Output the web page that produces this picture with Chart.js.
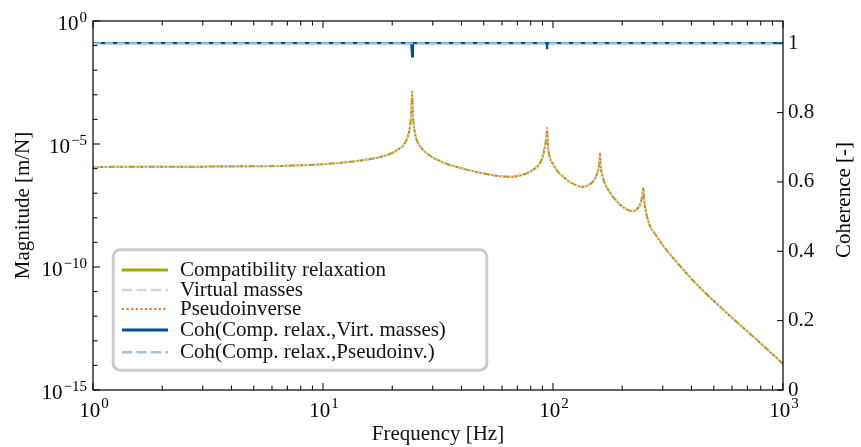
<!DOCTYPE html>
<html><head><meta charset="utf-8">
<script src="https://cdn.jsdelivr.net/npm/chart.js@4"></script>
<style>html,body{margin:0;padding:0;background:#fff}#wrap{width:861px;height:447px}</style>
</head><body><div id="wrap"><canvas id="c" width="861" height="447"></canvas></div>
<script>
// ---- data ----
const frequency = [1, 2, 3, 5, 7, 10, 14, 17.7, 20.9, 23.1, 23.9, 24.2, 24.4, 24.6, 25.1, 25.5, 27.3, 32.3, 42.2, 50, 58.8, 66, 71.9, 82.1, 89.3, 92.3, 93.6, 94.2, 94.8, 95.4, 100.3, 114.7, 125, 133.4, 142, 149.7, 157.4, 159.3, 160, 160.8, 162.8, 177, 195, 209, 223, 232, 239, 244.5, 247, 249, 251, 264, 273, 302, 357, 421, 589, 821, 1000];
const compatRelaxation = [1.17e-6, 1.19e-6, 1.20e-6, 1.24e-6, 1.32e-6, 1.51e-6, 2.04e-6, 2.95e-6, 5.5e-6, 1.51e-5, 5.25e-5, 2.0e-4, 1.35e-3, 1.58e-4, 2.82e-5, 1.51e-5, 5.62e-6, 2.0e-6, 9.1e-7, 6.3e-7, 4.9e-7, 4.7e-7, 5.25e-7, 9.1e-7, 2.34e-6, 8.1e-6, 2.0e-5, 4.47e-5, 1.26e-5, 5.9e-6, 1.45e-6, 3.55e-7, 2.19e-7, 1.82e-7, 2.09e-7, 3.09e-7, 9.1e-7, 2.0e-6, 4.37e-6, 1.58e-6, 6.76e-7, 1.05e-7, 3.55e-8, 2.19e-8, 1.86e-8, 2.24e-8, 3.47e-8, 7.9e-8, 1.66e-7, 6.3e-8, 2.95e-8, 4.57e-9, 2.82e-9, 7.1e-10, 1.10e-10, 2.0e-11, 1.02e-12, 6.3e-14, 1.15e-14];
const virtualMasses = [1.17e-6, 1.19e-6, 1.20e-6, 1.24e-6, 1.32e-6, 1.51e-6, 2.04e-6, 2.95e-6, 5.5e-6, 1.51e-5, 5.25e-5, 2.0e-4, 1.35e-3, 1.58e-4, 2.82e-5, 1.51e-5, 5.62e-6, 2.0e-6, 9.1e-7, 6.3e-7, 4.9e-7, 4.7e-7, 5.25e-7, 9.1e-7, 2.34e-6, 8.1e-6, 2.0e-5, 4.47e-5, 1.26e-5, 5.9e-6, 1.45e-6, 3.55e-7, 2.19e-7, 1.82e-7, 2.09e-7, 3.09e-7, 9.1e-7, 2.0e-6, 4.37e-6, 1.58e-6, 6.76e-7, 1.05e-7, 3.55e-8, 2.19e-8, 1.86e-8, 2.24e-8, 3.47e-8, 7.9e-8, 1.66e-7, 6.3e-8, 2.95e-8, 4.57e-9, 2.82e-9, 7.1e-10, 1.10e-10, 2.0e-11, 1.02e-12, 6.3e-14, 1.15e-14];
const pseudoinverse = [1.17e-6, 1.19e-6, 1.20e-6, 1.24e-6, 1.32e-6, 1.51e-6, 2.04e-6, 2.95e-6, 5.5e-6, 1.51e-5, 5.25e-5, 2.0e-4, 1.35e-3, 1.58e-4, 2.82e-5, 1.51e-5, 5.62e-6, 2.0e-6, 9.1e-7, 6.3e-7, 4.9e-7, 4.7e-7, 5.25e-7, 9.1e-7, 2.34e-6, 8.1e-6, 2.0e-5, 4.47e-5, 1.26e-5, 5.9e-6, 1.45e-6, 3.55e-7, 2.19e-7, 1.82e-7, 2.09e-7, 3.09e-7, 9.1e-7, 2.0e-6, 4.37e-6, 1.58e-6, 6.76e-7, 1.05e-7, 3.55e-8, 2.19e-8, 1.86e-8, 2.24e-8, 3.47e-8, 7.9e-8, 1.66e-7, 6.3e-8, 2.95e-8, 4.57e-9, 2.82e-9, 7.1e-10, 1.10e-10, 2.0e-11, 1.02e-12, 6.3e-14, 1.15e-14];
const cohFrequency = [1, 24.2, 24.4, 24.6, 94.0, 94.2, 94.4, 1000];
const cohCompVirt = [1, 1, 0.962, 1, 1, 0.986, 1, 1];
const cohCompPseudo = [1, 1, 1, 1, 1, 1, 1, 1];
const xMajorTicks = [1, 10, 100, 1000];
const xMajorExp = ['0', '1', '2', '3'];
const xMinorTicks = [2,3,4,5,6,7,8,9,20,30,40,50,60,70,80,90,200,300,400,500,600,700,800,900];
const yMajorTicks = [1, 1e-5, 1e-10, 1e-15];
const yMajorExp = ['0', '\u22125', '\u221210', '\u221215'];
const yMinorTicks = [1e-1,1e-2,1e-3,1e-4,1e-6,1e-7,1e-8,1e-9,1e-11,1e-12,1e-13,1e-14];
const cohTicks = [0, 0.2, 0.4, 0.6, 0.8, 1];
const labels = ['Compatibility relaxation', 'Virtual masses', 'Pseudoinverse', 'Coh(Comp. relax.,Virt. masses)', 'Coh(Comp. relax.,Pseudoinv.)'];

const FONT = '"Liberation Serif", "Times New Roman", serif';
const pts = (xs, ys) => xs.map((x, i) => ({x, y: ys[i]}));

// datasets: index 0 is drawn on top
const dsCohPseudo = {label: labels[4], data: pts(cohFrequency, cohCompPseudo), yAxisID: 'y2', borderColor: '#98C6EA', borderWidth: 2, borderDash: [8, 4], pointRadius: 0, tension: 0, fill: false};
const dsCohVirt = {label: labels[3], data: pts(cohFrequency, cohCompVirt), yAxisID: 'y2', borderColor: '#005293', borderWidth: 2.2, pointRadius: 0, tension: 0, fill: false};
const dsPseudo = {label: labels[2], data: pts(frequency, pseudoinverse), yAxisID: 'y', borderColor: '#E37222', borderWidth: 1.5, borderDash: [1.5, 2.5], pointRadius: 0, cubicInterpolationMode: 'monotone', fill: false};
const dsVirt = {label: labels[1], data: pts(frequency, virtualMasses), yAxisID: 'y', borderColor: '#DAD7CB', borderWidth: 1.8, borderDash: [7, 3], pointRadius: 0, cubicInterpolationMode: 'monotone', fill: false};
const dsCompat = {label: labels[0], data: pts(frequency, compatRelaxation), yAxisID: 'y', borderColor: '#A2AD00', borderWidth: 2, pointRadius: 0, cubicInterpolationMode: 'monotone', fill: false};
const legendEntries = [dsCompat, dsVirt, dsPseudo, dsCohVirt, dsCohPseudo];

function drawPow(ctx, exp, x, yBase, yExp, align) {
  ctx.font = '21px ' + FONT; const bw = ctx.measureText('10').width;
  ctx.font = '15px ' + FONT; const ew = ctx.measureText(exp).width;
  const total = bw + 1 + ew;
  const left = align === 'right' ? x - total : x - total / 2;
  ctx.textAlign = 'left'; ctx.textBaseline = 'alphabetic'; ctx.fillStyle = '#000';
  ctx.font = '21px ' + FONT; ctx.fillText('10', left, yBase);
  ctx.font = '15px ' + FONT; ctx.fillText(exp, left + bw + 1, yExp);
}

const decor = {
  id: 'decor',
  afterDatasetsDraw(chart) {
    const ctx = chart.ctx, a = chart.chartArea;
    const sx = chart.scales.x, sy = chart.scales.y, s2 = chart.scales.y2;
    ctx.save();
    // frame
    ctx.strokeStyle = '#111'; ctx.lineWidth = 1.3;
    ctx.strokeRect(a.left, a.top, a.right - a.left, a.bottom - a.top);
    ctx.lineWidth = 1.1;
    const tick = (x1, y1, x2, y2) => { ctx.beginPath(); ctx.moveTo(x1, y1); ctx.lineTo(x2, y2); ctx.stroke(); };
    xMajorTicks.forEach(v => { const px = sx.getPixelForValue(v); tick(px, a.bottom, px, a.bottom - 7); tick(px, a.top, px, a.top + 7); });
    xMinorTicks.forEach(v => { const px = sx.getPixelForValue(v); tick(px, a.bottom, px, a.bottom - 4.5); tick(px, a.top, px, a.top + 4.5); });
    yMajorTicks.forEach(v => { const py = sy.getPixelForValue(v); tick(a.left, py, a.left + 7, py); });
    yMinorTicks.forEach(v => { const py = sy.getPixelForValue(v); tick(a.left, py, a.left + 4.5, py); });
    cohTicks.forEach(v => { const py = s2.getPixelForValue(v); tick(a.right, py, a.right - 6, py); });
    // tick labels
    xMajorTicks.forEach((v, i) => { const px = sx.getPixelForValue(v); drawPow(ctx, xMajorExp[i], px + 1, a.bottom + 27, a.bottom + 18, 'center'); });
    yMajorTicks.forEach((v, i) => { const py = sy.getPixelForValue(v); drawPow(ctx, yMajorExp[i], a.left - 6, py + 8.5, py + 0.5, 'right'); });
    // right title
    ctx.save();
    ctx.translate(844, 200); ctx.rotate(-Math.PI / 2);
    ctx.font = '21px ' + FONT; ctx.fillStyle = '#000'; ctx.textAlign = 'center'; ctx.textBaseline = 'middle';
    ctx.fillText('Coherence [-]', 0, 0);
    ctx.restore();
    // legend
    const bx = 113.2, by = 249.8, bw = 373.6, bh = 120.4, r = 7;
    ctx.beginPath();
    ctx.moveTo(bx + r, by); ctx.lineTo(bx + bw - r, by); ctx.arcTo(bx + bw, by, bx + bw, by + r, r);
    ctx.lineTo(bx + bw, by + bh - r); ctx.arcTo(bx + bw, by + bh, bx + bw - r, by + bh, r);
    ctx.lineTo(bx + r, by + bh); ctx.arcTo(bx, by + bh, bx, by + bh - r, r);
    ctx.lineTo(bx, by + r); ctx.arcTo(bx, by, bx + r, by, r); ctx.closePath();
    ctx.fillStyle = 'rgba(255,255,255,0.9)'; ctx.fill();
    ctx.strokeStyle = '#cccccc'; ctx.lineWidth = 3; ctx.stroke();
    const baselines = [276, 296, 315, 336, 358.3];
    const sampleWidth = [3, 2.5, 2, 3, 2.5];
    legendEntries.forEach((d, i) => {
      const ly = baselines[i] - 6;
      ctx.beginPath(); ctx.strokeStyle = d.borderColor; ctx.lineWidth = sampleWidth[i];
      ctx.setLineDash(d.borderDash ? (i === 2 ? [2, 2.6] : [10, 4.5]) : []);
      ctx.moveTo(122, ly); ctx.lineTo(168, ly); ctx.stroke();
      ctx.setLineDash([]);
      ctx.font = '21px ' + FONT; ctx.fillStyle = '#111'; ctx.textAlign = 'left'; ctx.textBaseline = 'alphabetic';
      ctx.fillText(d.label, 180, baselines[i]);
    });
    ctx.restore();
  }
};

new Chart(document.getElementById('c'), {
  type: 'line',
  data: {datasets: [dsCohPseudo, dsCohVirt, dsPseudo, dsVirt, dsCompat]},
  options: {
    responsive: false, animation: false, devicePixelRatio: 1,
    layout: {padding: {top: 21, left: 0, right: 0, bottom: 0}},
    plugins: {legend: {display: false}, tooltip: {enabled: false}},
    elements: {line: {borderCapStyle: 'butt'}},
    scales: {
      x: {type: 'logarithmic', position: 'bottom', min: 1, max: 1000,
        grid: {display: false, drawTicks: false}, border: {display: false},
        ticks: {display: false},
        title: {display: true, text: 'Frequency [Hz]', color: '#111', font: {family: FONT, size: 21}, padding: {top: 0, bottom: 0}},
        afterFit(s) { s.height = 57; }},
      y: {type: 'logarithmic', position: 'left', min: 1e-15, max: 1,
        grid: {display: false, drawTicks: false}, border: {display: false},
        ticks: {display: false},
        title: {display: true, text: 'Magnitude [m/N]', color: '#111', font: {family: FONT, size: 21}, padding: {top: 11, bottom: 0}},
        afterFit(s) { s.width = 93; }},
      y2: {type: 'linear', position: 'right', min: 0, max: 1.064,
        grid: {display: false, drawTicks: false}, border: {display: false},
        afterBuildTicks(s) { s.ticks = cohTicks.map(v => ({value: v})); },
        ticks: {color: '#111', padding: 5, font: {family: FONT, size: 21}, callback: v => String(+Number(v).toFixed(1))},
        afterFit(s) { s.width = 78; }}
    }
  },
  plugins: [decor]
});
</script>
</body></html>
